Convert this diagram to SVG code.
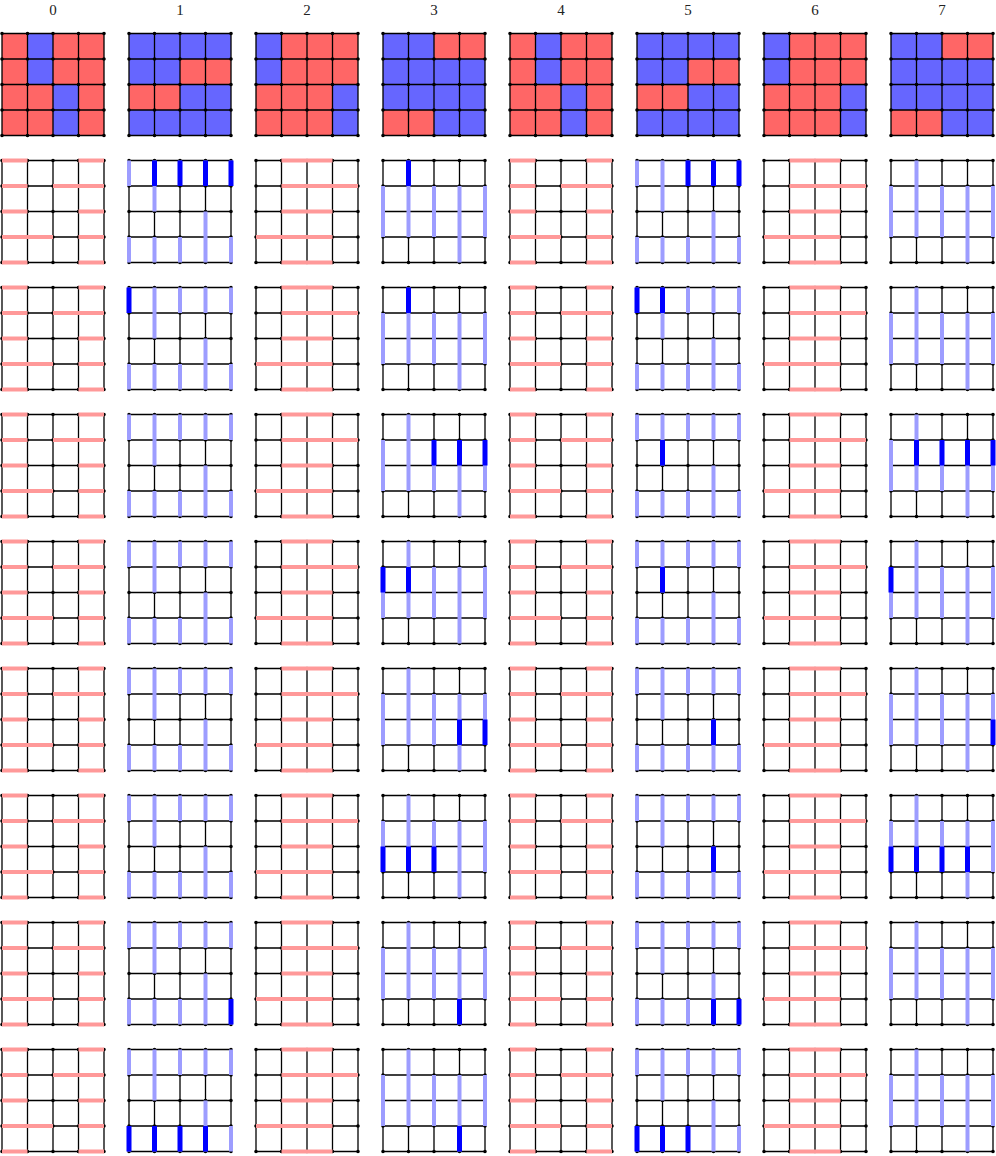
<svg xmlns="http://www.w3.org/2000/svg" xmlns:xlink="http://www.w3.org/1999/xlink" width="996" height="1156" viewBox="0 0 996 1156">
<style>
.bg{fill:#ffffff}
.lbl{font-family:"Liberation Serif","DejaVu Serif",serif;font-size:15px;fill:#222;text-anchor:middle}
.red{fill:#ff6666}
.blue{fill:#6666ff}
.gl{fill:none;stroke:#000;stroke-width:1.3}
.dot{fill:none;stroke:#000;stroke-width:3.6;stroke-linecap:round}
.pk{fill:none;stroke:#ff9999;stroke-width:4}
.lb{fill:none;stroke:#9d9dff;stroke-width:4}
.db{fill:none;stroke:#0000ff;stroke-width:5}
</style>
<defs>
<g id="grid">
<path class="gl" d="M0 0H102M0 25.5H102M0 51H102M0 76.5H102M0 102H102M0 0V102M25.5 0V102M51 0V102M76.5 0V102M102 0V102"/>
<path class="dot" d="M0 0h0M25.5 0h0M51 0h0M76.5 0h0M102 0h0M0 25.5h0M25.5 25.5h0M51 25.5h0M76.5 25.5h0M102 25.5h0M0 51h0M25.5 51h0M51 51h0M76.5 51h0M102 51h0M0 76.5h0M25.5 76.5h0M51 76.5h0M76.5 76.5h0M102 76.5h0M0 102h0M25.5 102h0M51 102h0M76.5 102h0M102 102h0"/>
</g>
<g id="colA"><rect class="red" width="102" height="102"/><path class="blue" d="M25.5 0h25.5v51h-25.5zM51 51h25.5v51h-25.5z"/></g>
<g id="colB"><rect class="blue" width="102" height="102"/><path class="red" d="M51 25.5h51v25.5h-51zM0 51h51v25.5h-51z"/></g>
<g id="colC"><rect class="red" width="102" height="102"/><path class="blue" d="M0 0h25.5v51h-25.5zM76.5 51h25.5v51h-25.5z"/></g>
<g id="colD"><rect class="blue" width="102" height="102"/><path class="red" d="M51 0h51v25.5h-51zM0 76.5h51v25.5h-51z"/></g>
<g id="pkA"><use href="#grid"/><path class="pk" d="M0 0H25.5M76.5 0H102M0 25.5H25.5M51 25.5H102M0 51H25.5M76.5 51H102M0 76.5H51M76.5 76.5H102M0 102H25.5M76.5 102H102"/></g>
<g id="pkB"><use href="#grid"/><path class="pk" d="M25.5 0H76.5M25.5 25.5H102M25.5 51H76.5M0 76.5H76.5M25.5 102H76.5"/></g>
<g id="lbC"><use href="#grid"/><path class="lb" d="M0 0V25.5M0 76.5V102M25.5 0V51M25.5 76.5V102M51 0V25.5M51 76.5V102M76.5 0V25.5M76.5 51V102M102 0V25.5M102 76.5V102"/></g>
<g id="lbD"><use href="#grid"/><path class="lb" d="M0 25.5V76.5M25.5 0V76.5M51 25.5V76.5M76.5 25.5V102M102 25.5V76.5"/></g>
</defs>
<rect class="bg" width="996" height="1156"/>
<g id="labels">
<text class="lbl" x="53" y="15">0</text>
<text class="lbl" x="180" y="15">1</text>
<text class="lbl" x="307" y="15">2</text>
<text class="lbl" x="434" y="15">3</text>
<text class="lbl" x="561" y="15">4</text>
<text class="lbl" x="688" y="15">5</text>
<text class="lbl" x="815" y="15">6</text>
<text class="lbl" x="942" y="15">7</text>
</g>
<g id="row0">
<g id="n-r0-c0" transform="translate(2,33.5)"><use href="#colA"/><use href="#grid"/></g>
<g id="n-r0-c1" transform="translate(129,33.5)"><use href="#colB"/><use href="#grid"/></g>
<g id="n-r0-c2" transform="translate(256,33.5)"><use href="#colC"/><use href="#grid"/></g>
<g id="n-r0-c3" transform="translate(383,33.5)"><use href="#colD"/><use href="#grid"/></g>
<g id="n-r0-c4" transform="translate(510,33.5)"><use href="#colA"/><use href="#grid"/></g>
<g id="n-r0-c5" transform="translate(637,33.5)"><use href="#colB"/><use href="#grid"/></g>
<g id="n-r0-c6" transform="translate(764,33.5)"><use href="#colC"/><use href="#grid"/></g>
<g id="n-r0-c7" transform="translate(891,33.5)"><use href="#colD"/><use href="#grid"/></g>
</g>
<g id="col0">
<g id="n-r1-c0" transform="translate(2,160.5)"><use href="#pkA"/></g>
<g id="n-r2-c0" transform="translate(2,287.5)"><use href="#pkA"/></g>
<g id="n-r3-c0" transform="translate(2,414.5)"><use href="#pkA"/></g>
<g id="n-r4-c0" transform="translate(2,541.5)"><use href="#pkA"/></g>
<g id="n-r5-c0" transform="translate(2,668.5)"><use href="#pkA"/></g>
<g id="n-r6-c0" transform="translate(2,795.5)"><use href="#pkA"/></g>
<g id="n-r7-c0" transform="translate(2,922.5)"><use href="#pkA"/></g>
<g id="n-r8-c0" transform="translate(2,1049.5)"><use href="#pkA"/></g>
</g>
<g id="col2">
<g id="n-r1-c2" transform="translate(256,160.5)"><use href="#pkB"/></g>
<g id="n-r2-c2" transform="translate(256,287.5)"><use href="#pkB"/></g>
<g id="n-r3-c2" transform="translate(256,414.5)"><use href="#pkB"/></g>
<g id="n-r4-c2" transform="translate(256,541.5)"><use href="#pkB"/></g>
<g id="n-r5-c2" transform="translate(256,668.5)"><use href="#pkB"/></g>
<g id="n-r6-c2" transform="translate(256,795.5)"><use href="#pkB"/></g>
<g id="n-r7-c2" transform="translate(256,922.5)"><use href="#pkB"/></g>
<g id="n-r8-c2" transform="translate(256,1049.5)"><use href="#pkB"/></g>
</g>
<g id="col4">
<g id="n-r1-c4" transform="translate(510,160.5)"><use href="#pkA"/></g>
<g id="n-r2-c4" transform="translate(510,287.5)"><use href="#pkA"/></g>
<g id="n-r3-c4" transform="translate(510,414.5)"><use href="#pkA"/></g>
<g id="n-r4-c4" transform="translate(510,541.5)"><use href="#pkA"/></g>
<g id="n-r5-c4" transform="translate(510,668.5)"><use href="#pkA"/></g>
<g id="n-r6-c4" transform="translate(510,795.5)"><use href="#pkA"/></g>
<g id="n-r7-c4" transform="translate(510,922.5)"><use href="#pkA"/></g>
<g id="n-r8-c4" transform="translate(510,1049.5)"><use href="#pkA"/></g>
</g>
<g id="col6">
<g id="n-r1-c6" transform="translate(764,160.5)"><use href="#pkB"/></g>
<g id="n-r2-c6" transform="translate(764,287.5)"><use href="#pkB"/></g>
<g id="n-r3-c6" transform="translate(764,414.5)"><use href="#pkB"/></g>
<g id="n-r4-c6" transform="translate(764,541.5)"><use href="#pkB"/></g>
<g id="n-r5-c6" transform="translate(764,668.5)"><use href="#pkB"/></g>
<g id="n-r6-c6" transform="translate(764,795.5)"><use href="#pkB"/></g>
<g id="n-r7-c6" transform="translate(764,922.5)"><use href="#pkB"/></g>
<g id="n-r8-c6" transform="translate(764,1049.5)"><use href="#pkB"/></g>
</g>
<g id="col1">
<g id="n-r1-c1" transform="translate(129,160.5)"><use href="#lbC"/><path class="db" d="M25.5 0v25.5M51 0v25.5M76.5 0v25.5M102 0v25.5"/></g>
<g id="n-r2-c1" transform="translate(129,287.5)"><use href="#lbC"/><path class="db" d="M0 0v25.5"/></g>
<g id="n-r3-c1" transform="translate(129,414.5)"><use href="#lbC"/></g>
<g id="n-r4-c1" transform="translate(129,541.5)"><use href="#lbC"/></g>
<g id="n-r5-c1" transform="translate(129,668.5)"><use href="#lbC"/></g>
<g id="n-r6-c1" transform="translate(129,795.5)"><use href="#lbC"/></g>
<g id="n-r7-c1" transform="translate(129,922.5)"><use href="#lbC"/><path class="db" d="M102 76.5v25.5"/></g>
<g id="n-r8-c1" transform="translate(129,1049.5)"><use href="#lbC"/><path class="db" d="M0 76.5v25.5M25.5 76.5v25.5M51 76.5v25.5M76.5 76.5v25.5"/></g>
</g>
<g id="col3">
<g id="n-r1-c3" transform="translate(383,160.5)"><use href="#lbD"/><path class="db" d="M25.5 0v25.5"/></g>
<g id="n-r2-c3" transform="translate(383,287.5)"><use href="#lbD"/><path class="db" d="M25.5 0v25.5"/></g>
<g id="n-r3-c3" transform="translate(383,414.5)"><use href="#lbD"/><path class="db" d="M51 25.5v25.5M76.5 25.5v25.5M102 25.5v25.5"/></g>
<g id="n-r4-c3" transform="translate(383,541.5)"><use href="#lbD"/><path class="db" d="M0 25.5v25.5M25.5 25.5v25.5"/></g>
<g id="n-r5-c3" transform="translate(383,668.5)"><use href="#lbD"/><path class="db" d="M76.5 51v25.5M102 51v25.5"/></g>
<g id="n-r6-c3" transform="translate(383,795.5)"><use href="#lbD"/><path class="db" d="M0 51v25.5M25.5 51v25.5M51 51v25.5"/></g>
<g id="n-r7-c3" transform="translate(383,922.5)"><use href="#lbD"/><path class="db" d="M76.5 76.5v25.5"/></g>
<g id="n-r8-c3" transform="translate(383,1049.5)"><use href="#lbD"/><path class="db" d="M76.5 76.5v25.5"/></g>
</g>
<g id="col5">
<g id="n-r1-c5" transform="translate(637,160.5)"><use href="#lbC"/><path class="db" d="M51 0v25.5M76.5 0v25.5M102 0v25.5"/></g>
<g id="n-r2-c5" transform="translate(637,287.5)"><use href="#lbC"/><path class="db" d="M0 0v25.5M25.5 0v25.5"/></g>
<g id="n-r3-c5" transform="translate(637,414.5)"><use href="#lbC"/><path class="db" d="M25.5 25.5v25.5"/></g>
<g id="n-r4-c5" transform="translate(637,541.5)"><use href="#lbC"/><path class="db" d="M25.5 25.5v25.5"/></g>
<g id="n-r5-c5" transform="translate(637,668.5)"><use href="#lbC"/><path class="db" d="M76.5 51v25.5"/></g>
<g id="n-r6-c5" transform="translate(637,795.5)"><use href="#lbC"/><path class="db" d="M76.5 51v25.5"/></g>
<g id="n-r7-c5" transform="translate(637,922.5)"><use href="#lbC"/><path class="db" d="M76.5 76.5v25.5M102 76.5v25.5"/></g>
<g id="n-r8-c5" transform="translate(637,1049.5)"><use href="#lbC"/><path class="db" d="M0 76.5v25.5M25.5 76.5v25.5M51 76.5v25.5"/></g>
</g>
<g id="col7">
<g id="n-r1-c7" transform="translate(891,160.5)"><use href="#lbD"/></g>
<g id="n-r2-c7" transform="translate(891,287.5)"><use href="#lbD"/></g>
<g id="n-r3-c7" transform="translate(891,414.5)"><use href="#lbD"/><path class="db" d="M25.5 25.5v25.5M51 25.5v25.5M76.5 25.5v25.5M102 25.5v25.5"/></g>
<g id="n-r4-c7" transform="translate(891,541.5)"><use href="#lbD"/><path class="db" d="M0 25.5v25.5"/></g>
<g id="n-r5-c7" transform="translate(891,668.5)"><use href="#lbD"/><path class="db" d="M102 51v25.5"/></g>
<g id="n-r6-c7" transform="translate(891,795.5)"><use href="#lbD"/><path class="db" d="M0 51v25.5M25.5 51v25.5M51 51v25.5M76.5 51v25.5"/></g>
<g id="n-r7-c7" transform="translate(891,922.5)"><use href="#lbD"/></g>
<g id="n-r8-c7" transform="translate(891,1049.5)"><use href="#lbD"/></g>
</g>
</svg>
